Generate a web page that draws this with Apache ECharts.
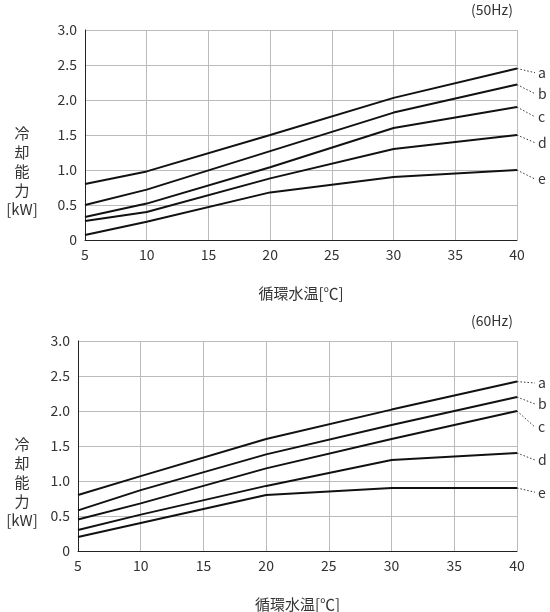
<!DOCTYPE html><html><head><meta charset="utf-8"><script src="https://cdn.jsdelivr.net/npm/echarts@6/dist/echarts.min.js"></script></head><body style="margin:0"><div id="c" style="width:550px;height:612px"></div><script>
const xs=[5,10,20,30,40];
const names=['a','b','c','d','e'];
const top50=[[0.8,0.98,1.5,2.03,2.45],[0.5,0.72,1.27,1.82,2.22],[0.33,0.52,1.04,1.6,1.9],[0.27,0.4,0.88,1.3,1.5],[0.07,0.26,0.68,0.9,1.0]];
const bot60=[[0.8,1.07,1.6,2.02,2.42],[0.58,0.87,1.38,1.8,2.2],[0.45,0.68,1.18,1.6,2.0],[0.3,0.52,0.93,1.3,1.4],[0.2,0.4,0.8,0.9,0.9]];
const labY50=[2.39,2.09,1.76,1.39,0.87];
const labY60=[2.4,2.1,1.77,1.3,0.84];
const font='"Noto Sans CJK JP"';
const c=echarts.init(document.getElementById('c'));
function ax(i){return {gridIndex:i,min:5,max:40,interval:5,axisLine:{lineStyle:{color:'#222'}},axisTick:{show:false},axisLabel:{color:'#333',fontSize:14,fontFamily:font,margin:8},splitLine:{show:true,lineStyle:{color:'#bbb'}}};}
function ay(i){return {gridIndex:i,min:0,max:3,interval:0.5,axisLine:{show:true,lineStyle:{color:'#222'}},axisTick:{show:false},axisLabel:{color:'#333',fontSize:14,fontFamily:font,formatter:v=>v===0?'0':v.toFixed(1)},splitLine:{lineStyle:{color:'#bbb'}}};}
const series=[];
[top50,bot60].forEach((d,g)=>d.forEach((s,k)=>series.push({type:'line',xAxisIndex:g,yAxisIndex:g,symbol:'none',silent:true,lineStyle:{color:'#111',width:2},data:xs.map((x,j)=>[x,s[j]])})));
c.setOption({animation:false,
grid:[{left:85,right:33,top:30,height:210},{left:78,right:33,top:341,height:210}],
xAxis:[ax(0),ax(1)],yAxis:[ay(0),ay(1)],series});
const gr=[];
[[top50,labY50,0],[bot60,labY60,1]].forEach(([d,ly,g])=>{
 d.forEach((s,k)=>{
  const p=c.convertToPixel({gridIndex:g},[40,s[4]]);
  const q=c.convertToPixel({gridIndex:g},[40,ly[k]]);
  gr.push({type:'line',shape:{x1:p[0],y1:p[1],x2:p[0]+18,y2:q[1]},style:{stroke:'#333',lineDash:[1.5,2],lineWidth:1}});
  gr.push({type:'text',x:p[0]+21,y:q[1],style:{text:names[k],fill:'#333',font:'14px '+font,verticalAlign:'middle'}});
 });
 const o=c.convertToPixel({gridIndex:g},[22.5,0]);
 gr.push({type:'text',x:o[0],y:o[1]+53,style:{text:'循環水温[℃]',fill:'#333',font:'15px '+font,align:'center',verticalAlign:'middle'}});
 const t=c.convertToPixel({gridIndex:g},[40,3]);
 gr.push({type:'text',x:t[0]-25,y:t[1]-20,style:{text:'(%sHz)'.replace('%s',g?'60':'50'),fill:'#333',font:'14px '+font,align:'center',verticalAlign:'middle'}});
 const m=c.convertToPixel({gridIndex:g},[5,1.8]);
 gr.push({type:'text',x:22,y:m[1]+10,style:{text:'冷\n却\n能\n力',fill:'#333',font:'15px '+font,align:'center',lineHeight:19}});
 gr.push({type:'text',x:22,y:m[1]+88,style:{text:'[kW]',fill:'#333',font:'15px '+font,align:'center'}});
});
c.setOption({graphic:gr});
</script></body></html>
